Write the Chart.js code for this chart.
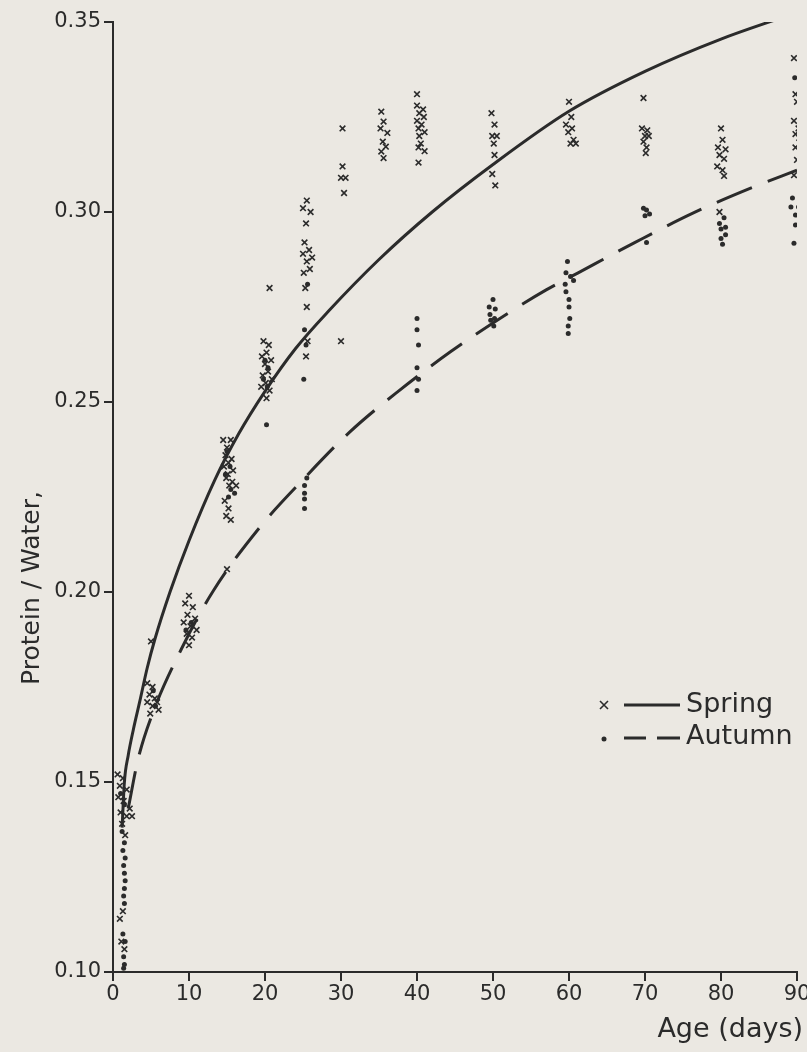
<!DOCTYPE html>
<html lang="en">
<head>
    <meta charset="UTF-8">
    <title>Protein / Water vs Age</title>
    <script src="https://cdn.jsdelivr.net/npm/chart.js"></script>
    <style>
        html, body { margin: 0; padding: 0; background: #ebe8e2; }
        #wrap { width: 807px; height: 1052px; position: relative; }
    </style>
</head>
<body>
    <div id="wrap"><canvas id="proteinChart"></canvas></div>
    <script>
        // tick values
        const xTicks = [0, 10, 20, 30, 40, 50, 60, 70, 80, 90];
        const yTicks = [0.10, 0.15, 0.20, 0.25, 0.30, 0.35];

        // spring samples (x marks)
        const springDay = [
            0.6, 1.3, 0.9, 1.8, 0.7, 1.4, 2.2, 1.0, 1.8, 2.5, 1.2, 1.6, 1.3, 0.9, 1.1, 1.5,
            5.0, 4.5, 5.2, 4.8, 5.5, 4.5, 5.8, 5.2, 6.0, 4.9,
            10, 9.5, 10.5, 9.8, 10.8, 9.3, 10.2, 11, 9.7, 10.4, 10,
            14.5, 15.5, 15, 14.8, 15.6, 15.2, 14.6, 15.8, 15.1, 14.9, 15.7, 15.3, 16.2, 14.7, 15.2, 14.9, 15.5, 15.0,
            20.6, 19.8, 20.5, 20.2, 19.6, 20.8, 20.0, 20.4, 19.7, 20.9, 20.1, 19.5, 20.6, 20.2,
            25.5, 25.0, 26.0, 25.4, 25.2, 25.8, 25.0, 26.2, 25.5, 25.9, 25.1, 25.3, 25.5, 25.6, 25.4,
            30.2, 30.2, 30.0, 30.6, 30.4, 30.0,
            35.3, 35.6, 35.2, 36.1, 35.5, 35.9, 35.3, 35.6,
            40.0, 40.0, 40.8, 40.3, 40.9, 40.0, 40.6, 40.2, 41.0, 40.3, 40.5, 40.2, 41.0, 40.2,
            49.8, 50.2, 49.9, 50.5, 50.1, 50.2, 49.9, 50.3,
            60.0, 60.3, 59.6, 60.4, 59.9, 60.6, 60.2, 60.9,
            69.8, 69.6, 70.3, 70.0, 70.5, 69.8, 70.2, 70.1,
            80.0, 80.2, 79.6, 80.6, 79.8, 80.4, 79.5, 80.2, 80.4, 79.8,
            89.6, 89.8, 90.0, 89.6, 90.2, 89.8, 90.3, 89.8, 90.0, 90.6, 89.6
        ];
        const springRatio = [
            0.152, 0.151, 0.149, 0.148, 0.146, 0.145, 0.143, 0.142, 0.141, 0.141, 0.139, 0.136, 0.116, 0.114, 0.108, 0.106,
            0.187, 0.176, 0.175, 0.173, 0.172, 0.171, 0.171, 0.170, 0.169, 0.168,
            0.199, 0.197, 0.196, 0.194, 0.193, 0.192, 0.191, 0.190, 0.189, 0.188, 0.186,
            0.240, 0.240, 0.238, 0.236, 0.235, 0.234, 0.233, 0.232, 0.231, 0.230, 0.229, 0.228, 0.228, 0.224, 0.222, 0.220, 0.219, 0.206,
            0.280, 0.266, 0.265, 0.263, 0.262, 0.261, 0.260, 0.258, 0.257, 0.256, 0.255, 0.254, 0.253, 0.251,
            0.303, 0.301, 0.300, 0.297, 0.292, 0.290, 0.289, 0.288, 0.287, 0.285, 0.284, 0.280, 0.275, 0.266, 0.262,
            0.322, 0.312, 0.309, 0.309, 0.305, 0.266,
            0.3264, 0.3238, 0.322, 0.3208, 0.3185, 0.3172, 0.3159, 0.3142,
            0.331, 0.328, 0.327, 0.326, 0.325, 0.324, 0.323, 0.322, 0.321, 0.320, 0.318, 0.317, 0.316, 0.313,
            0.326, 0.323, 0.320, 0.320, 0.318, 0.315, 0.310, 0.307,
            0.329, 0.325, 0.323, 0.322, 0.321, 0.319, 0.318, 0.318,
            0.330, 0.322, 0.3215, 0.320, 0.320, 0.3185, 0.317, 0.3155,
            0.322, 0.319, 0.317, 0.3165, 0.315, 0.314, 0.312, 0.311, 0.3095, 0.300,
            0.3405, 0.331, 0.329, 0.324, 0.322, 0.3205, 0.3195, 0.317, 0.3137, 0.3124, 0.3097
        ];

        // autumn samples (dots)
        const autumnDay = [
            1.0, 1.5, 1.2, 1.5, 1.3, 1.6, 1.4, 1.5, 1.6, 1.5, 1.4, 1.5, 1.3, 1.6, 1.4, 1.5, 1.4,
            5.3, 5.6,
            10.3, 9.6,
            15.0, 15.4, 14.8, 15.5, 15.2, 16.0,
            20.0, 20.4, 19.8, 20.3, 20.2,
            25.6, 25.2, 25.4, 25.1, 25.5, 25.2, 25.2, 25.2, 25.2,
            40.0, 40.0, 40.2, 40.0, 40.2, 40.0,
            50.0, 49.5, 50.3, 49.6, 50.2, 49.7, 50.1,
            59.8, 59.6, 60.2, 60.6, 59.5, 59.6, 60.0, 60.0, 60.1, 59.9, 59.9,
            69.8, 70.2, 70.6, 70.0, 70.2,
            80.4, 79.8, 80.6, 80.0, 80.6, 80.0, 80.2,
            89.7, 90.6, 90.4, 89.4, 89.2, 90.2, 89.8, 89.8, 89.6
        ];
        const autumnRatio = [
            0.147, 0.144, 0.137, 0.134, 0.132, 0.130, 0.128, 0.126, 0.124, 0.122, 0.120, 0.118, 0.110, 0.108, 0.104, 0.102, 0.101,
            0.174, 0.170,
            0.192, 0.190,
            0.237, 0.233, 0.231, 0.227, 0.225, 0.226,
            0.261, 0.259, 0.256, 0.254, 0.244,
            0.281, 0.269, 0.265, 0.256, 0.230, 0.228, 0.226, 0.2245, 0.222,
            0.272, 0.269, 0.265, 0.259, 0.256, 0.253,
            0.277, 0.275, 0.2745, 0.273, 0.272, 0.2715, 0.270,
            0.287, 0.284, 0.283, 0.282, 0.281, 0.279, 0.277, 0.275, 0.272, 0.270, 0.268,
            0.301, 0.3005, 0.2995, 0.299, 0.292,
            0.2985, 0.297, 0.296, 0.2955, 0.294, 0.293, 0.2915,
            0.3353, 0.3274, 0.3063, 0.3037, 0.3013, 0.3013, 0.2992, 0.2966, 0.2918
        ];

        // fitted curves as drawn in the figure
        const springCurveDay = [1.2, 1.5, 2, 2.7, 3.5, 4.5, 5.5, 7.5, 10, 13.4, 16.5, 20, 24, 28.4, 35, 42, 50, 60, 70, 80, 90];
        const springCurveRatio = [0.138, 0.150, 0.157, 0.164, 0.171, 0.180, 0.1875, 0.200, 0.2135, 0.2295, 0.2415, 0.2528, 0.264, 0.274, 0.2875, 0.300, 0.3125, 0.3265, 0.337, 0.3455, 0.3525];
        const autumnCurveDay = [2, 3.3, 5.2, 9, 13.1, 19.3, 25.2, 31.1, 37.4, 44.4, 52, 57, 61.2, 68.7, 76.3, 83.9, 90];
        const autumnCurveRatio = [0.143, 0.156, 0.168, 0.185, 0.200, 0.217, 0.230, 0.242, 0.2526, 0.2632, 0.2734, 0.2795, 0.284, 0.292, 0.2997, 0.3063, 0.311];

        const ink = '#2b2b2b';
        const paper = '#ebe8e2';
        const font = '"DejaVu Sans", "Liberation Sans", sans-serif';

        function pairs(xs, ys) {
            return xs.map((x, i) => ({ x: x, y: ys[i] }));
        }

        // paper background
        const paperBg = {
            id: 'paperBg',
            beforeDraw(chart) {
                const c = chart.ctx;
                c.save();
                c.fillStyle = paper;
                c.fillRect(0, 0, chart.width, chart.height);
                c.restore();
            }
        };

        // axis titles + legend drawn where the figure has them
        const figureText = {
            id: 'figureText',
            afterDraw(chart) {
                const c = chart.ctx;
                c.save();
                c.fillStyle = ink;
                c.strokeStyle = ink;

                // y title
                c.save();
                c.translate(32, 588);
                c.rotate(-Math.PI / 2);
                c.font = '25px ' + font;
                c.textAlign = 'center';
                c.textBaseline = 'middle';
                c.fillText('Protein / Water,', 0, 0);
                c.restore();

                // x title
                c.font = '27px ' + font;
                c.textAlign = 'right';
                c.textBaseline = 'middle';
                c.fillText('Age (days)', 803, 1030);

                // legend
                c.textAlign = 'left';
                c.fillText('Spring', 686, 705);
                c.fillText('Autumn', 686, 737);
                c.lineWidth = 1.6;
                c.beginPath();
                c.moveTo(600, 701); c.lineTo(608, 709);
                c.moveTo(608, 701); c.lineTo(600, 709);
                c.stroke();
                c.beginPath();
                c.arc(604, 739, 2.5, 0, Math.PI * 2);
                c.fill();
                c.lineWidth = 3;
                c.beginPath();
                c.moveTo(624, 705); c.lineTo(680, 705);
                c.moveTo(624, 738); c.lineTo(646, 738);
                c.moveTo(657, 738); c.lineTo(680, 738);
                c.stroke();
                c.restore();
            }
        };

        const ctx = document.getElementById('proteinChart').getContext('2d');
        new Chart(ctx, {
            type: 'scatter',
            data: {
                datasets: [
                    {
                        label: 'Spring',
                        data: pairs(springDay, springRatio),
                        pointStyle: 'crossRot',
                        pointRadius: 4,
                        pointBorderWidth: 1.6,
                        borderColor: ink,
                        backgroundColor: ink
                    },
                    {
                        label: 'Autumn',
                        data: pairs(autumnDay, autumnRatio),
                        pointStyle: 'circle',
                        pointRadius: 2.5,
                        pointBorderWidth: 0,
                        borderColor: ink,
                        backgroundColor: ink
                    },
                    {
                        label: 'Spring curve',
                        data: pairs(springCurveDay, springCurveRatio),
                        showLine: true,
                        pointRadius: 0,
                        borderWidth: 3,
                        borderColor: ink,
                        cubicInterpolationMode: 'monotone'
                    },
                    {
                        label: 'Autumn curve',
                        data: pairs(autumnCurveDay, autumnCurveRatio),
                        showLine: true,
                        pointRadius: 0,
                        borderWidth: 3,
                        borderColor: ink,
                        borderDash: [38, 17],
                        cubicInterpolationMode: 'monotone'
                    }
                ]
            },
            options: {
                responsive: true,
                maintainAspectRatio: false,
                animation: false,
                layout: { padding: { top: 22, right: 0, left: 0, bottom: 0 } },
                plugins: {
                    legend: { display: false },
                    tooltip: { enabled: false }
                },
                scales: {
                    x: {
                        type: 'linear',
                        min: 0,
                        max: 90,
                        afterBuildTicks: (s) => { s.ticks = xTicks.map(v => ({ value: v })); },
                        afterFit: (s) => { s.height = 80; s.paddingRight = 10; s.paddingLeft = 0; },
                        grid: { display: true, drawOnChartArea: false, drawTicks: true, tickLength: 9, color: ink, lineWidth: 2 },
                        border: { display: true, color: ink, width: 2 },
                        ticks: { color: ink, font: { family: font, size: 21 }, padding: 1, maxRotation: 0 }
                    },
                    y: {
                        type: 'linear',
                        min: 0.10,
                        max: 0.35,
                        afterBuildTicks: (s) => { s.ticks = yTicks.map(v => ({ value: v })); },
                        afterFit: (s) => { s.width = 113; },
                        grid: { display: true, drawOnChartArea: false, drawTicks: true, tickLength: 9, color: ink, lineWidth: 2 },
                        border: { display: true, color: ink, width: 2 },
                        ticks: { color: ink, font: { family: font, size: 21 }, padding: 3, callback: v => v.toFixed(2) }
                    }
                }
            },
            plugins: [paperBg, figureText]
        });
    </script>
</body>
</html>
